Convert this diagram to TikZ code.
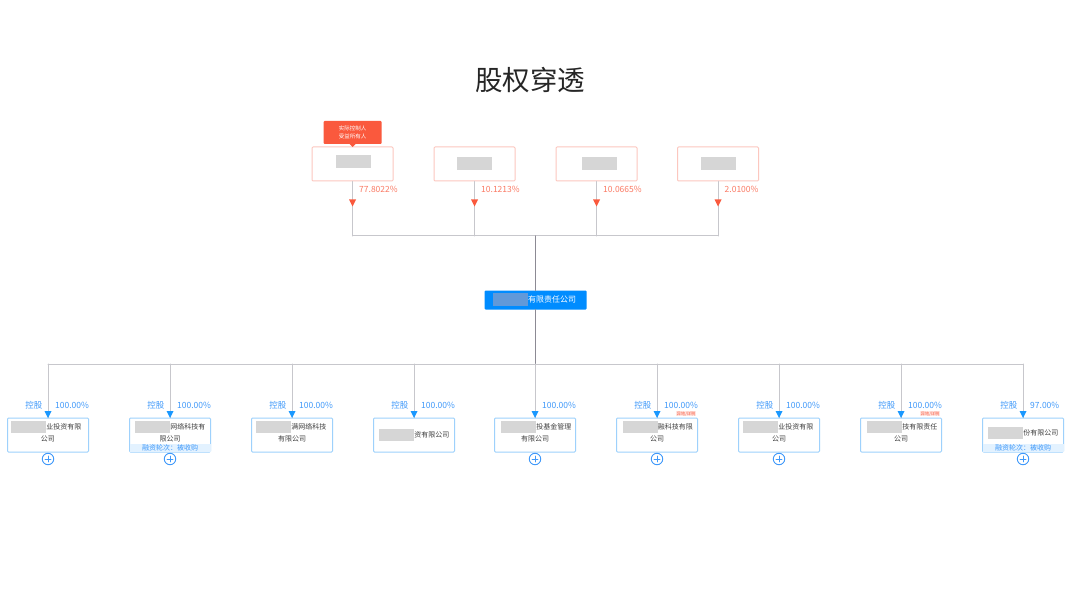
\documentclass[tikz,border=0pt]{standalone}
\usepackage{fontspec}
\setmainfont{Noto Sans CJK SC}
\setsansfont{Noto Sans CJK SC}
\definecolor{holderred}{rgb}{0.98,0.35,0.24}
\definecolor{holderline}{rgb}{0.99,0.78,0.75}
\definecolor{firmblue}{rgb}{0,0.55,1}
\definecolor{firmmask}{rgb}{0.38,0.60,0.85}
\definecolor{subline}{rgb}{0.62,0.82,0.99}
\definecolor{sublabel}{rgb}{0.25,0.60,0.98}
\definecolor{tagfill}{rgb}{0.89,0.95,1}
\definecolor{linkgray}{rgb}{0.78,0.78,0.80}
\definecolor{trunkgray}{rgb}{0.55,0.54,0.58}
\definecolor{maskgray}{rgb}{0.84,0.84,0.84}
\tikzset{
	holderbox/.style={draw=holderline,fill=white,rounded corners=1pt,minimum width=81pt,minimum height=34pt,line width=1pt},
	subbox/.style={draw=subline,fill=white,rounded corners=1pt,minimum width=81pt,minimum height=34pt,line width=1pt},
	maskbox/.style={fill=maskgray,inner sep=0pt,minimum width=35pt,minimum height=12pt},
	link/.style={draw=linkgray,line width=1pt},
	subtext/.style={font=\fontsize{7}{11}\selectfont,text=black!75,inner sep=0pt},
	pct/.style={font=\fontsize{8.5}{10}\selectfont,text=sublabel,inner sep=0pt},
	redpct/.style={font=\fontsize{8.5}{10}\selectfont,text=holderred!80,inner sep=0pt},
}
\begin{document}
\begin{tikzpicture}[x=1pt,y=-1pt,line cap=round,line join=round]
	\useasboundingbox (0,0) rectangle (1080,599);
	\fill[white] (0,0) rectangle (1080,599);
	\node[text=black!85] (title) at (530,80) {\fontsize{27.5}{30}\selectfont 股权穿透};
	% shareholders
	\coordinate (hjoin) at (535.5,236);
	\coordinate (sjoin) at (535.5,364);
	\foreach \n/\x/\mx/\my/\p in {a/352.5/353.5/162/77.8022\%,b/474.5/474.5/163.5/10.1213\%,c/596.5/599.5/163.5/10.0665\%,d/718/718.5/163.5/2.0100\%}{
		\node[holderbox] (h\n) at (\x,164) {};
		\node[maskbox,minimum height=13pt] (m\n) at (\mx,\my) {};
		\coordinate (e\n) at (\x,236);
		\draw[link] (h\n.south) -- (e\n);
		\fill[holderred] (\x-3.5,199.5) -- (\x+3.5,199.5) -- (\x,206.5) -- cycle;
		\node[redpct,anchor=west] (p\n) at (\x+6.5,189) {\p};
	}
	\draw[link] (ea) -- (ed);
	% company
	\node[fill=firmblue,rounded corners=1pt,minimum width=102pt,minimum height=19pt,inner sep=0pt] (firm) at (535.5,300) {};
	\draw[trunkgray,line width=1.1pt] (hjoin) -- (firm.north);
	\draw[trunkgray,line width=1.1pt] (firm.south) -- (sjoin);
	\node[fill=firmmask,minimum width=35pt,minimum height=13pt,inner sep=0pt] (fmask) at (510.5,299.5) {};
	\node[anchor=west,inner sep=0pt,text=white] (fname) at (528,299.5) {\fontsize{8}{10}\selectfont 有限责任公司};
	% subsidiaries
	\foreach \n/\x/\p in {a/48/100.00,b/170/100.00,c/292/100.00,d/414/100.00,e/535/100.00,f/657/100.00,g/779/100.00,h/901/100.00,i/1023/97.00}{
		\coordinate (u\n) at (\x,364);
		\node[subbox] (s\n) at (\x,435) {};
		\draw[link] (u\n) -- (s\n.north);
		\fill[firmblue!90] (\x-3.5,411) -- (\x+3.5,411) -- (\x,418) -- cycle;
		\node[pct,anchor=west] (p\n) at (\x+7,405.5) {\p\%};
	}
	\draw[link] (ua) -- (ui);
	\foreach \n in {a,b,c,d,f,g,h,i}{
		\node[pct,anchor=east] (k\n) at ([xshift=-5.5pt,yshift=12.5pt]s\n.north) {控股};
	}
	% financing tags
	\foreach \n in {b,i}{
		\fill[tagfill] ([xshift=0.5pt,yshift=0.5pt]s\n.south west) rectangle ([xshift=-0.5pt,yshift=9pt]s\n.south east);
		\node[font=\fontsize{7}{9}\selectfont,text=sublabel,inner sep=0pt] (r\n) at ([yshift=4.5pt]s\n.south) {融资轮次：被收购};
	}
	% masked names
	\foreach \n/\mx/\my/\l in {a/28.5/427/业投资有限,b/152.5/427/网络科技有,c/273.5/427/满网络科技,d/396.5/434.5/资有限公司,e/518.5/427/投基金管理,f/640/427/融科技有限,g/760.5/427/业投资有限,h/884.5/427/技有限责任,i/1005.5/433/份有限公司}{
		\node[maskbox] (t\n) at (\mx,\my) {};
		\node[subtext,anchor=west] (l\n) at (t\n.east) {\l};
	}
	\foreach \n/\o in {a/公司,b/限公司,c/有限公司,e/有限公司,f/公司,g/公司,h/公司}{
		\node[subtext] (o\n) at ([yshift=13.5pt]s\n.south) {\o};
	}
	% expand buttons
	\foreach \n in {a,b,e,f,g,i}{
		\node[circle,draw=sublabel,fill=white,line width=0.9pt,minimum size=11.5pt,inner sep=0pt] (plus\n) at ([yshift=-6.5pt]s\n.south) {};
		\draw[sublabel,line width=0.7pt] ([xshift=-3pt]plus\n.center) -- ([xshift=3pt]plus\n.center);
		\draw[sublabel,line width=0.7pt] ([yshift=-3pt]plus\n.center) -- ([yshift=3pt]plus\n.center);
	}
	% small red marks
	\foreach \n in {f,h}{
		\node[fill=holderred!15,text=holderred,inner sep=0.5pt,font=\fontsize{4.2}{4.2}\selectfont,anchor=south east] (x\n) at ([xshift=-2pt,yshift=1pt]s\n.north east) {异地/详税};
	}
	% controller tag
	\node[fill=holderred,rounded corners=1pt,minimum width=58pt,minimum height=23pt,inner sep=0pt,align=center,text=white,font=\fontsize{5.5}{7.5}\selectfont] (ctl) at (352.5,132.5) {实际控制人\\受益所有人};
	\fill[holderred] (349.5,144) -- (355.5,144) -- (352.5,147) -- cycle;
\end{tikzpicture}
\end{document}
